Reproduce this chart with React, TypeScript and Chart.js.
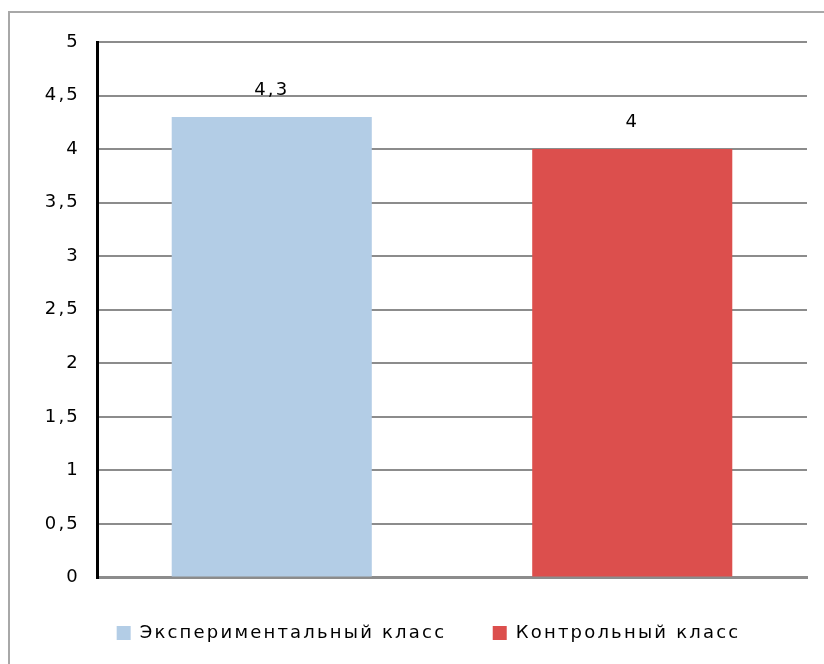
import React, { useEffect, useRef } from "react";
import { Chart, registerables } from "chart.js";

Chart.register(...registerables);

const categories = [""];
const seriesNames = ["Экспериментальный класс", "Контрольный класс"];
const seriesValues = [4.3, 4];
const seriesColors = ["#B3CDE6", "#DC4F4D"];
const yMin = 0;
const yMax = 5;
const yStep = 0.5;

const FONT = "'DejaVu Sans', sans-serif";
const SPACING = "2.2px";

const fmt = (v: number) => String(v).replace(".", ",");

const spacingPlugin = {
  id: "spacing",
  beforeLayout(chart: any) {
    chart.ctx.letterSpacing = SPACING;
  },
  afterLayout(chart: any) {
    // centre the legend under the reference position
    const lg = chart.legend;
    if (lg) {
      lg.left += 25;
      lg.right += 25;
    }
  },
  beforeDraw(chart: any) {
    chart.ctx.letterSpacing = SPACING;
  },
};

const valueLabels = {
  id: "valueLabels",
  afterDatasetsDraw(chart: any) {
    const ctx = chart.ctx;
    ctx.save();
    ctx.letterSpacing = SPACING;
    ctx.font = `18px ${FONT}`;
    ctx.fillStyle = "#000";
    ctx.textAlign = "center";
    ctx.textBaseline = "alphabetic";
    chart.data.datasets.forEach((ds: any, i: number) => {
      const meta = chart.getDatasetMeta(i);
      meta.data.forEach((el: any, j: number) => {
        ctx.fillText(fmt(ds.data[j]), el.x, el.y - 22);
      });
    });
    ctx.restore();
  },
};

export default function App() {
  const ref = useRef<HTMLCanvasElement>(null);
  useEffect(() => {
    if (!ref.current) return;
    const chart = new Chart(ref.current, {
      type: "bar",
      data: {
        labels: categories,
        datasets: seriesNames.map((name, i) => ({
          label: name,
          data: [seriesValues[i]],
          backgroundColor: seriesColors[i],
          borderWidth: 0,
          categoryPercentage: 1.0155,
          barPercentage: 0.555,
        })),
      },
      options: {
        animation: false,
        responsive: false,
        devicePixelRatio: 1,
        layout: { padding: { left: 0, right: 17, top: 42, bottom: 12 } },
        plugins: {
          tooltip: { enabled: false },
          legend: {
            position: "bottom",
            labels: {
              color: "#000",
              font: { family: FONT, size: 18 },
              boxWidth: 14,
              boxHeight: 14,
              padding: 46.5,
            },
          },
        },
        scales: {
          x: {
            grid: { display: false },
            ticks: { display: false },
            border: { display: true, color: "#8c8c8c", width: 3 },
            afterFit: (s: any) => {
              s.height = 0;
            },
          },
          y: {
            min: yMin,
            max: yMax,
            ticks: {
              stepSize: yStep,
              color: "#000",
              font: { family: FONT, size: 18 },
              padding: 17,
              callback: (v: any) => fmt(Number(v)),
            },
            grid: { color: "#8c8c8c", lineWidth: 2, drawTicks: false },
            border: { display: true, color: "#000", width: 3 },
            afterFit: (s: any) => {
              s.width = 97;
            },
          },
        },
      },
      plugins: [spacingPlugin, valueLabels],
    });
    return () => chart.destroy();
  }, []);

  return (
    <div
      style={{
        position: "fixed",
        left: 0,
        top: 0,
        width: 824,
        height: 664,
        overflow: "hidden",
        background: "#fff",
      }}
    >
      <div
        style={{
          position: "absolute",
          left: 8,
          top: 11,
          width: 900,
          height: 800,
          border: "2px solid #a8a8a8",
        }}
      />
      <canvas
        ref={ref}
        width={824}
        height={664}
        style={{ position: "absolute", left: 0, top: 0, width: 824, height: 664 }}
      />
    </div>
  );
}
